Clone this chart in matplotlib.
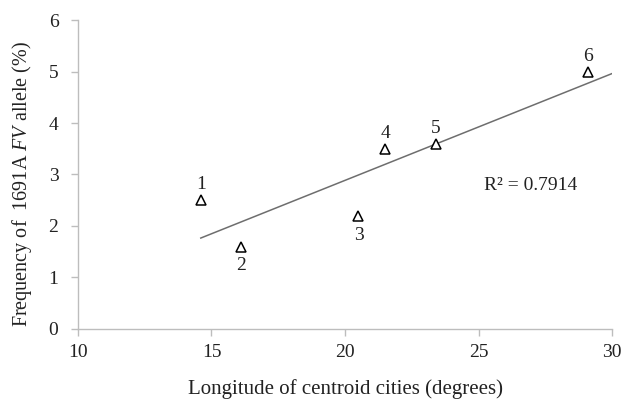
import numpy as np
import matplotlib
matplotlib.use("Agg")
import matplotlib.pyplot as plt

plt.rcParams['font.family'] = ['Liberation Serif', 'DejaVu Serif']
plt.rcParams['mathtext.fontset'] = 'custom'
plt.rcParams['mathtext.rm'] = 'Liberation Serif'
plt.rcParams['mathtext.it'] = 'Liberation Serif:italic'

# data
longitude = [14.6, 16.1, 20.5, 21.5, 23.4, 29.1]
frequency = [2.5, 1.6, 2.2, 3.5, 3.6, 5.0]
point_labels = ['1', '2', '3', '4', '5', '6']
label_above = [True, False, False, True, True, True]
r2_text = 'R² = 0.7914'

fig = plt.figure(figsize=(6.28, 4.03), dpi=100)
ax = fig.add_axes([0.124, 0.184, 0.851, 0.766])

# linear trend line
slope, intercept = np.polyfit(longitude, frequency, 1)
xs = np.array([min(longitude), 30])
ax.plot(xs, slope * xs + intercept, color='#6e6e6e', lw=1.1, zorder=1)

ax.plot(longitude, frequency, linestyle='none', marker='^', markersize=6.5,
        mfc='white', mec='black', mew=1.1, zorder=2)

for x, y, lab, up in zip(longitude, frequency, point_labels, label_above):
    dy = 11 if up else -14
    ax.annotate(lab, (x, y), xytext=(0, dy), textcoords='offset points',
                ha='center', va='center', fontsize=14, color='#222222')

ax.text(25.2, 2.78, r2_text, fontsize=14, color='#222222', ha='left', va='center')

ax.set_xlim(10, 30)
ax.set_ylim(0, 6)
ax.set_xticks([10, 15, 20, 25, 30])
ax.set_yticks(range(0, 7))

for s in ['top', 'right']:
    ax.spines[s].set_visible(False)
for s in ['left', 'bottom']:
    ax.spines[s].set_color('#bdbdbd')
    ax.spines[s].set_linewidth(1)

ax.tick_params(axis='both', colors='#bdbdbd', labelcolor='#222222',
               labelsize=14, length=5, width=1, direction='out')
ax.tick_params(axis='x', pad=6)
ax.tick_params(axis='y', pad=9)

ax.set_xlabel('Longitude of centroid cities (degrees)', fontsize=15,
              color='#222222', labelpad=13)
ax.set_ylabel(r'Frequency of  1691A $\mathit{FV}$ allele (%)', fontsize=14.5,
              color='#222222')
ax.yaxis.set_label_coords(-0.082, 0.47)

fig.savefig('out.png', dpi=100)
